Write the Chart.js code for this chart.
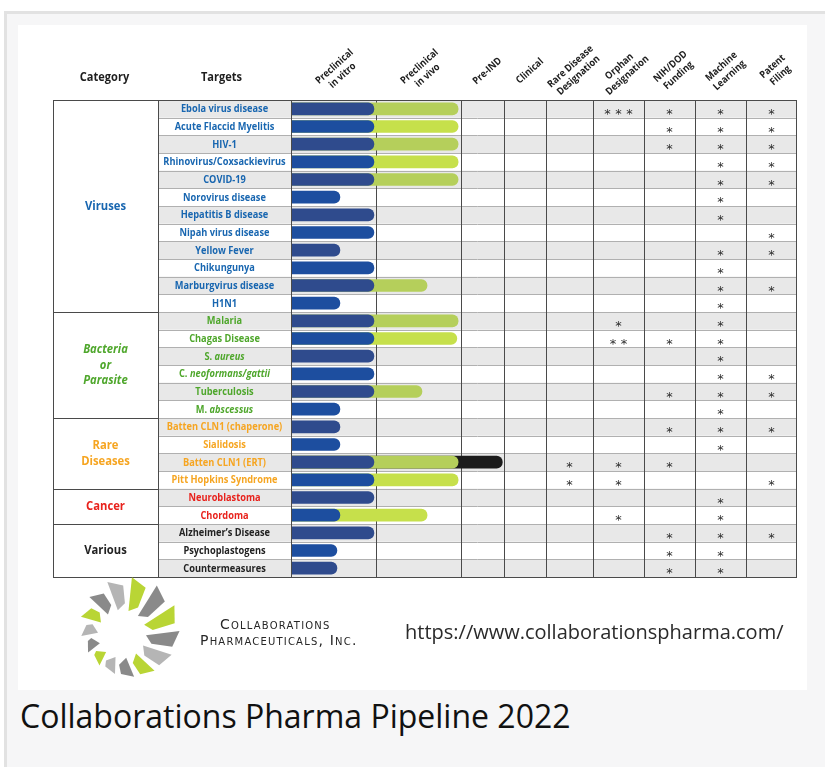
<!DOCTYPE html>
<html>
<head>
<meta charset="utf-8">
<title>Collaborations Pharma Pipeline 2022</title>
<script src="https://cdn.jsdelivr.net/npm/chart.js@4.4.1/dist/chart.umd.min.js"></script>
<style>
  html, body { margin: 0; padding: 0; background: #fff; overflow: hidden; }
  .frame { position: absolute; left: 4px; top: 11px; width: 900px; height: 800px;
           border-left: 3px solid #e2e2e2; border-top: 3px solid #e2e2e2; background: #f6f6f7; }
  .panel { position: absolute; left: 18px; top: 25px; width: 789px; height: 665px; background: #fff; }
  #pipeline { position: absolute; left: 0; top: 0; }
  .company { position: absolute; font-family: "DejaVu Sans", sans-serif; font-variant: small-caps;
             font-size: 14px; letter-spacing: 1.2px; color: #262626; white-space: nowrap; line-height: 16px; }
  .url { position: absolute; left: 387px; top: 596px; font-family: "Open Sans", sans-serif; font-size: 20px;
         line-height: 22px; color: #2a2a2a; white-space: nowrap; }
  .caption { position: absolute; left: 20px; top: 698px; font-family: "Open Sans", sans-serif;
             font-size: 32px; line-height: 36px; color: #111; white-space: nowrap; }
</style>
</head>
<body>
<div class="frame"></div>
<div class="panel">
  <canvas id="pipeline" width="789" height="665"></canvas>
  <div class="company" style="left:202px; top:591px;">Collaborations</div>
  <div class="company" style="left:182px; top:607px;">Pharmaceuticals, Inc.</div>
  <div class="url">https://www.collaborationspharma.com/</div>
</div>
<div class="caption">Collaborations Pharma Pipeline 2022</div>

<script>
// Pipeline rows (top to bottom)
const targets = [
  'Ebola virus disease', 'Acute Flaccid Myelitis', 'HIV-1', 'Rhinovirus/Coxsackievirus', 'COVID-19',
  'Norovirus disease', 'Hepatitis B disease', 'Nipah virus disease', 'Yellow Fever', 'Chikungunya',
  'Marburgvirus disease', 'H1N1',
  'Malaria', 'Chagas Disease', 'S. aureus', 'C. neoformans/gattii', 'Tuberculosis', 'M. abscessus',
  'Batten CLN1 (chaperone)', 'Sialidosis', 'Batten CLN1 (ERT)', 'Pitt Hopkins Syndrome',
  'Neuroblastoma', 'Chordoma',
  'Alzheimer’s Disease', 'Psychoplastogens', 'Countermeasures'
];
const italicTails = { 'S. aureus': 'aureus', 'C. neoformans/gattii': 'neoformans/gattii', 'M. abscessus': 'abscessus' };

// Category blocks
const categoryLines = [['Viruses'], ['Bacteria', 'or', 'Parasite'], ['Rare', 'Diseases'], ['Cancer'], ['Various']];
const categoryRowCounts = [12, 6, 4, 2, 3];
const categoryColors = ['#1866b0', '#4fa72c', '#f6a521', '#e8221c', '#222222'];
const categoryItalic = [false, true, false, false, false];

// Column headers and their edges on the progress axis
const stageLabels = [
  ['Preclinical', 'in vitro'], ['Preclinical', 'in vivo'], ['Pre-IND'], ['Clinical'],
  ['Rare Disease', 'Designation'], ['Orphan', 'Designation'], ['NIH/DOD', 'Funding'],
  ['Machine', 'Learning'], ['Patent', 'Filing']
];
const stageEdges = [0, 2, 4, 5, 6, 7.1, 8.3, 9.5, 10.7, 11.9];

// How far each programme reached in each phase
const inVitroEnd = [1.95, 1.95, 1.95, 1.95, 1.95, 1.15, 1.95, 1.95, 1.15, 1.95, 1.95, 1.15,
                    1.95, 1.95, 1.95, 1.95, 1.95, 1.15,
                    1.15, 1.15, 1.95, 1.95,
                    1.95, 1.15,
                    1.95, 1.08, 1.08];
const inVivoEnd = [3.93, 3.93, 3.93, 3.93, 3.93, null, null, null, null, null, 3.2, null,
                   3.93, 3.9, null, null, 3.08, null,
                   null, null, 3.93, 3.93,
                   null, 3.2,
                   null, null, null];
const preIndEnd = [null, null, null, null, null, null, null, null, null, null, null, null,
                   null, null, null, null, null, null,
                   null, null, 4.97, null,
                   null, null,
                   null, null, null];

// Asterisk counts in the designation columns
const rareDisease = [0,0,0,0,0,0,0,0,0,0,0,0, 0,0,0,0,0,0, 0,0,1,1, 0,0, 0,0,0];
const orphan      = [3,0,0,0,0,0,0,0,0,0,0,0, 1,2,0,0,0,0, 0,0,1,1, 0,1, 0,0,0];
const nihDod      = [1,1,1,0,0,0,0,0,0,0,0,0, 0,1,0,0,1,0, 1,0,1,0, 0,0, 1,1,1];
const machineLrn  = [1,1,1,1,1,1,1,0,1,1,1,1, 1,1,1,1,1,1, 1,1,0,0, 1,1, 1,1,1];
const patent      = [1,1,1,1,1,0,0,1,1,0,1,0, 0,0,0,1,1,0, 1,0,0,1, 0,0, 1,0,0];
const designations = [rareDisease, orphan, nihDod, machineLrn, patent];
const firstDesignationStage = 4;

const categoryColW = 105;
const targetColW = 133;
const rowGray = '#e8e8e8';

function rowColor(i) {
  let start = 0;
  for (let c = 0; c < categoryRowCounts.length; c++) {
    if (i < start + categoryRowCounts[c]) return categoryColors[c];
    start += categoryRowCounts[c];
  }
  return '#222';
}

function squeezed(ctx, text, x, y, sx) {
  ctx.save();
  ctx.translate(x, y);
  ctx.scale(sx, 1);
  ctx.fillText(text, 0, 0);
  ctx.restore();
}

const tablePlugin = {
  id: 'pipelineTable',
  beforeDatasetsDraw(chart) {
    const { ctx, chartArea: a, scales: { x, y } } = chart;
    const rowH = Math.abs(y.getPixelForValue(1) - y.getPixelForValue(0));
    const targetLeft = a.left - targetColW;
    ctx.save();
    // zebra rows
    chart.data.labels.forEach((lab, i) => {
      if (i % 2) return;
      const top = y.getPixelForValue(i) - rowH / 2;
      ctx.fillStyle = rowGray;
      ctx.fillRect(targetLeft, top, a.right - targetLeft, rowH);
    });
    // row separators
    ctx.strokeStyle = '#b0b0b0';
    ctx.lineWidth = 1;
    for (let i = 1; i < chart.data.labels.length; i++) {
      const yy = Math.round(y.getPixelForValue(i) - rowH / 2) + 0.5;
      ctx.beginPath(); ctx.moveTo(targetLeft, yy); ctx.lineTo(a.right, yy); ctx.stroke();
    }
    // column separators
    ctx.strokeStyle = '#4a4a4a';
    stageEdges.slice(1, -1).forEach(e => {
      const xx = Math.round(x.getPixelForValue(e)) + 0.5;
      ctx.beginPath(); ctx.moveTo(xx, a.top); ctx.lineTo(xx, a.bottom); ctx.stroke();
    });
    ctx.restore();
  },
  afterDatasetsDraw(chart) {
    const { ctx, chartArea: a, scales: { x, y } } = chart;
    const rowH = Math.abs(y.getPixelForValue(1) - y.getPixelForValue(0));
    const targetLeft = a.left - targetColW;
    const tableLeft = targetLeft - categoryColW;
    ctx.save();

    // asterisks
    ctx.fillStyle = '#2e2e2e';
    ctx.font = '13px "DejaVu Sans"';
    ctx.textAlign = 'center';
    ctx.textBaseline = 'alphabetic';
    designations.forEach((counts, d) => {
      const s = firstDesignationStage + d;
      const cx = (x.getPixelForValue(stageEdges[s]) + x.getPixelForValue(stageEdges[s + 1])) / 2;
      counts.forEach((n, i) => {
        const cy = y.getPixelForValue(i) + 9;
        for (let k = 0; k < n; k++) ctx.fillText('*', cx + (k - (n - 1) / 2) * 11, cy);
      });
    });

    // target labels
    const fontB = 'bold 10.5px "Open Sans"';
    const fontBI = 'italic bold 10.5px "Open Sans"';
    const tcx = targetLeft + targetColW / 2;
    ctx.textAlign = 'left';
    ctx.textBaseline = 'middle';
    chart.data.labels.forEach((label, i) => {
      const tail = italicTails[label];
      const head = tail ? label.slice(0, label.length - tail.length) : label;
      ctx.font = fontB;
      const w1 = ctx.measureText(head).width;
      let w2 = 0;
      if (tail) { ctx.font = fontBI; w2 = ctx.measureText(tail).width; }
      const sx = Math.min(0.88, (targetColW - 5) / (w1 + w2));
      ctx.save();
      ctx.translate(tcx, y.getPixelForValue(i) + 0.5);
      ctx.scale(sx, 1);
      ctx.fillStyle = rowColor(i);
      ctx.font = fontB;
      ctx.fillText(head, -(w1 + w2) / 2, 0);
      if (tail) { ctx.font = fontBI; ctx.fillText(tail, -(w1 + w2) / 2 + w1, 0); }
      ctx.restore();
    });

    // category labels and block lines
    ctx.textAlign = 'center';
    let start = 0;
    categoryRowCounts.forEach((cnt, c) => {
      const top = y.getPixelForValue(start) - rowH / 2;
      const bottom = y.getPixelForValue(start + cnt - 1) + rowH / 2;
      const mid = (top + bottom) / 2;
      ctx.fillStyle = categoryColors[c];
      ctx.font = (categoryItalic[c] ? 'italic ' : '') + 'bold 12.5px "Open Sans"';
      const lines = categoryLines[c];
      lines.forEach((ln, k) => squeezed(ctx, ln, tableLeft + categoryColW / 2, mid + (k - (lines.length - 1) / 2) * 15.5, 0.9));
      if (start + cnt < chart.data.labels.length) {
        ctx.strokeStyle = '#4a4a4a';
        ctx.beginPath(); ctx.moveTo(tableLeft, Math.round(bottom) + 0.5); ctx.lineTo(targetLeft, Math.round(bottom) + 0.5); ctx.stroke();
      }
      start += cnt;
    });

    // frame lines
    ctx.strokeStyle = '#4a4a4a';
    ctx.lineWidth = 1;
    ctx.strokeRect(tableLeft + 0.5, Math.round(a.top) + 0.5, Math.round(a.right - tableLeft) - 1, Math.round(a.bottom - a.top));
    [targetLeft, a.left].forEach(xx => {
      ctx.beginPath(); ctx.moveTo(Math.round(xx) + 0.5, a.top); ctx.lineTo(Math.round(xx) + 0.5, a.bottom); ctx.stroke();
    });

    // headers
    ctx.fillStyle = '#1e1e1e';
    ctx.font = 'bold 12px "Open Sans"';
    squeezed(ctx, 'Category', tableLeft + categoryColW / 2 - 1, a.top - 22, 0.92);
    squeezed(ctx, 'Targets', tcx - 3, a.top - 22, 0.92);
    ctx.font = 'bold 10px "Open Sans"';
    stageLabels.forEach((lines, s) => {
      const cx = (x.getPixelForValue(stageEdges[s]) + x.getPixelForValue(stageEdges[s + 1])) / 2 + 5;
      ctx.save();
      ctx.translate(cx, a.top - 29);
      ctx.rotate(-42 * Math.PI / 180);
      ctx.scale(0.9, 1);
      lines.forEach((ln, k) => ctx.fillText(ln, 0, (k - (lines.length - 1) / 2) * 12));
      ctx.restore();
    });
    ctx.restore();
  },
  afterDraw(chart) {
    // company mark: a pinwheel of grey and lime shards
    const { ctx } = chart;
    const cx = 104, cy = 609;
    const palette = ['#b9d535', '#8a8a8a', '#b5b5b5'];
    const n = 14;
    ctx.save();
    for (let k = 0; k < n; k++) {
      const a0 = (k / n) * Math.PI * 2 - 0.4;
      const grow = 0.82 + 0.18 * Math.sin(a0 + 2.2);
      const rIn = 24, rOut = 60 * grow;
      const p = (r, ang) => [cx + r * Math.cos(ang), cy + r * Math.sin(ang)];
      const pts = [p(rIn, a0), p(rOut, a0 - 0.1), p(rOut * 0.9, a0 + 0.2), p(rIn + 7, a0 + 0.27)];
      ctx.beginPath();
      pts.forEach((pt, j) => j ? ctx.lineTo(pt[0], pt[1]) : ctx.moveTo(pt[0], pt[1]));
      ctx.closePath();
      ctx.fillStyle = palette[k % 3];
      ctx.fill();
    }
    ctx.restore();
  }
};

const blueShades = ['#2f4b8d', '#1d4e9f'];
const greenShades = ['#b5cf5b', '#c6e04b'];

new Chart(document.getElementById('pipeline'), {
  type: 'bar',
  data: {
    labels: targets,
    datasets: [
      {
        label: 'Preclinical in vitro',
        data: inVitroEnd,
        backgroundColor: c => blueShades[c.dataIndex % 2],
        grouped: false, barThickness: 12, borderRadius: 7, borderSkipped: 'start'
      },
      {
        label: 'Preclinical in vivo',
        data: inVivoEnd,
        backgroundColor: c => greenShades[c.dataIndex % 2],
        grouped: false, barThickness: 12, borderRadius: 7, borderSkipped: 'start'
      },
      {
        label: 'Pre-IND',
        data: preIndEnd,
        backgroundColor: '#1b1b1b',
        grouped: false, barThickness: 12, borderRadius: 7, borderSkipped: 'start'
      }
    ]
  },
  options: {
    indexAxis: 'y',
    responsive: false,
    animation: false,
    events: [],
    layout: { padding: { left: 273, right: 10, top: 75, bottom: 113 } },
    plugins: { legend: { display: false }, tooltip: { enabled: false } },
    scales: {
      x: { type: 'linear', min: 0, max: stageEdges[stageEdges.length - 1], display: false },
      y: { type: 'category', display: false, offset: true }
    }
  },
  plugins: [tablePlugin]
});
</script>
</body>
</html>
